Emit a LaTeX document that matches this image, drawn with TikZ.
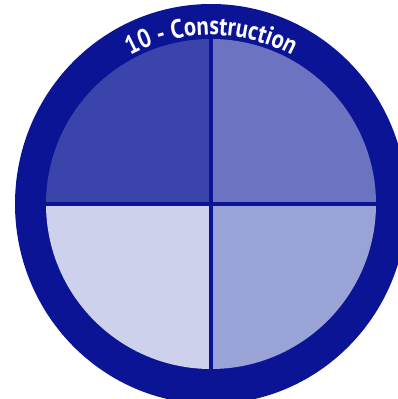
\documentclass[tikz,border=0pt]{standalone}
\usepackage{fontspec}
\newfontfamily\ringfont[FakeStretch=0.86]{PT Sans}
\usetikzlibrary{decorations.text}

\definecolor{ringblue}{RGB}{12,20,150}
\definecolor{quadtl}{RGB}{58,68,170}
\definecolor{quadtr}{RGB}{108,116,194}
\definecolor{quadbl}{RGB}{205,209,236}
\definecolor{quadbr}{RGB}{154,163,213}

\begin{document}
\begin{tikzpicture}[x=0.02cm, y=0.02cm,
  divider/.style={ringblue, line width=0.065cm}]

\useasboundingbox (0,0) rectangle (398,399);
\clip (0,0) rectangle (398,399);

% Outer ring
\coordinate (c) at (211,195);
\fill[ringblue] (c) ellipse [x radius=196, y radius=200];

% Quadrants
\fill[quadtl] (c) -- ++(180:165) arc (180:90:165) -- cycle;
\fill[quadtr] (c) -- ++(90:165) arc (90:0:165) -- cycle;
\fill[quadbl] (c) -- ++(180:165) arc (180:270:165) -- cycle;
\fill[quadbr] (c) -- ++(270:165) arc (270:360:165) -- cycle;

% Dividers
\draw[divider] (c) ++(-166,0) -- ++(332,0);
\draw[divider] (c) ++(0,-166) -- ++(0,332);

% Title on the ring
\path[decorate, decoration={text along path, text align=center,
  text color=white, text={|\ringfont\bfseries\fontsize{15}{17}\selectfont|10 - Construction}}]
  (c) ++(150:169) arc (150:30:169);

\end{tikzpicture}
\end{document}
